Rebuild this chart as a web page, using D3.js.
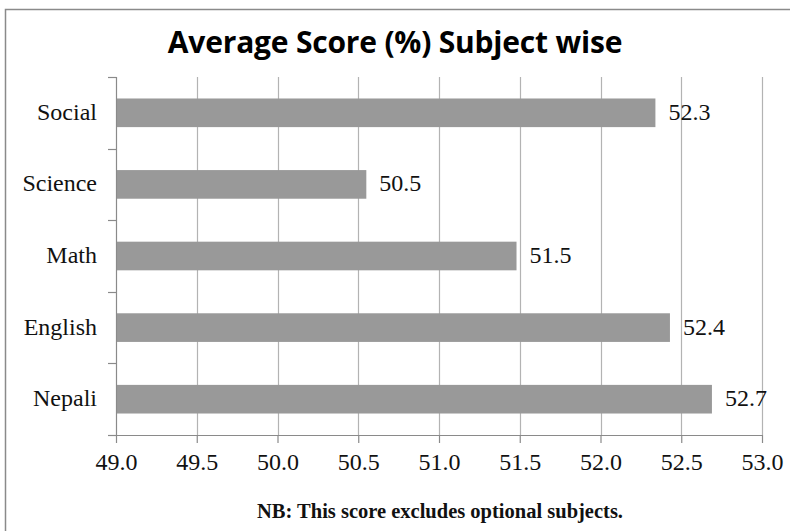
<!DOCTYPE html>
<html>
<head>
<meta charset="utf-8">
<script src="https://cdn.jsdelivr.net/npm/d3@7"></script>
<style>
  body { margin: 0; background: #fff; }
  svg { display: block; }
</style>
</head>
<body>
<svg width="790" height="531"></svg>
<script>
// data
var subjects = ['Social', 'Science', 'Math', 'English', 'Nepali'];
var scores = [52.34, 50.55, 51.48, 52.43, 52.69];
var xTicks = [49.0, 49.5, 50.0, 50.5, 51.0, 51.5, 52.0, 52.5, 53.0];
var title = 'Average Score (%) Subject wise';
var note = 'NB: This score excludes optional subjects.';

var serif = "'Liberation Serif', 'Times New Roman', serif";
var svg = d3.select('svg');
var margin = {left: 116, right: 28, top: 77, bottom: 96};
var width = 790 - margin.left - margin.right;
var height = 531 - margin.top - margin.bottom;

// outer frame (only top and left edges show)
svg.append('rect')
    .attr('x', 5.5).attr('y', 9.5)
    .attr('width', 800).attr('height', 600)
    .attr('fill', 'none')
    .attr('stroke', '#8a8a8a')
    .attr('stroke-width', 1.5);

svg.append('text')
    .attr('x', 395).attr('y', 53)
    .attr('text-anchor', 'middle')
    .style('font-family', 'Open Sans')
    .style('font-weight', 'bold')
    .style('font-size', '30px')
    .style('letter-spacing', '-0.2px')
    .text(title);

var g = svg.append('g')
    .attr('transform', 'translate(' + margin.left + ',' + margin.top + ')');

var x = d3.scaleLinear().domain([49, 53]).range([0, width]);
var y = d3.scaleBand().domain(subjects).range([0, height])
    .paddingInner(0.6).paddingOuter(0.3);

// grid
g.selectAll('.grid').data(xTicks.slice(1))
    .enter().append('line')
    .attr('class', 'grid')
    .attr('x1', function(d){ return Math.round(x(d)) + 0.5; })
    .attr('x2', function(d){ return Math.round(x(d)) + 0.5; })
    .attr('y1', 0).attr('y2', height)
    .attr('stroke', '#b3b3b3')
    .attr('stroke-width', 1.2);

// bars
g.selectAll('.bar').data(subjects)
    .enter().append('rect')
    .attr('class', 'bar')
    .attr('x', 0)
    .attr('y', function(d){ return y(d); })
    .attr('width', function(d, i){ return x(scores[i]); })
    .attr('height', y.bandwidth())
    .attr('fill', '#999999');

// value labels
var fmt = d3.format('.1f');
g.selectAll('.val').data(subjects)
    .enter().append('text')
    .attr('class', 'val')
    .attr('x', function(d, i){ return x(scores[i]) + 13; })
    .attr('y', function(d){ return y(d) + y.bandwidth() / 2 + 7; })
    .style('font-family', serif)
    .style('font-size', '24px')
    .attr('fill', '#111')
    .text(function(d, i){ return fmt(scores[i]); });

// left axis: ticks sit between categories
var bounds = d3.range(subjects.length + 1).map(function(i){
    return i * height / subjects.length;
});
g.append('line')
    .attr('x1', 0.5).attr('x2', 0.5)
    .attr('y1', 0).attr('y2', height)
    .attr('stroke', '#8a8a8a').attr('stroke-width', 1.2);
g.selectAll('.ytick').data(bounds)
    .enter().append('line')
    .attr('x1', -8).attr('x2', 0.5)
    .attr('y1', function(d){ return Math.round(d) + 0.5; })
    .attr('y2', function(d){ return Math.round(d) + 0.5; })
    .attr('stroke', '#8a8a8a').attr('stroke-width', 1.2);
g.selectAll('.ylab').data(subjects)
    .enter().append('text')
    .attr('x', -19)
    .attr('y', function(d){ return y(d) + y.bandwidth() / 2 + 7; })
    .attr('text-anchor', 'end')
    .style('font-family', serif)
    .style('font-size', '24px')
    .attr('fill', '#111')
    .text(function(d){ return d; });

// bottom axis
var xAxis = d3.axisBottom(x).tickValues(xTicks).tickFormat(d3.format('.1f'))
    .tickSize(8).tickSizeOuter(0).tickPadding(10);
var ax = g.append('g')
    .attr('transform', 'translate(0,' + height + ')')
    .call(xAxis);
ax.attr('font-family', null).attr('font-size', null);
ax.select('.domain').attr('stroke', '#8a8a8a').attr('stroke-width', 1.2);
ax.selectAll('.tick line').attr('stroke', '#8a8a8a').attr('stroke-width', 1.2);
ax.selectAll('.tick text')
    .style('font-family', serif)
    .style('font-size', '24px')
    .attr('fill', '#111');

svg.append('text')
    .attr('x', 440).attr('y', 518)
    .attr('text-anchor', 'middle')
    .style('font-family', serif)
    .style('font-weight', 'bold')
    .style('font-size', '20.5px')
    .attr('fill', '#111')
    .text(note);
</script>
</body>
</html>
